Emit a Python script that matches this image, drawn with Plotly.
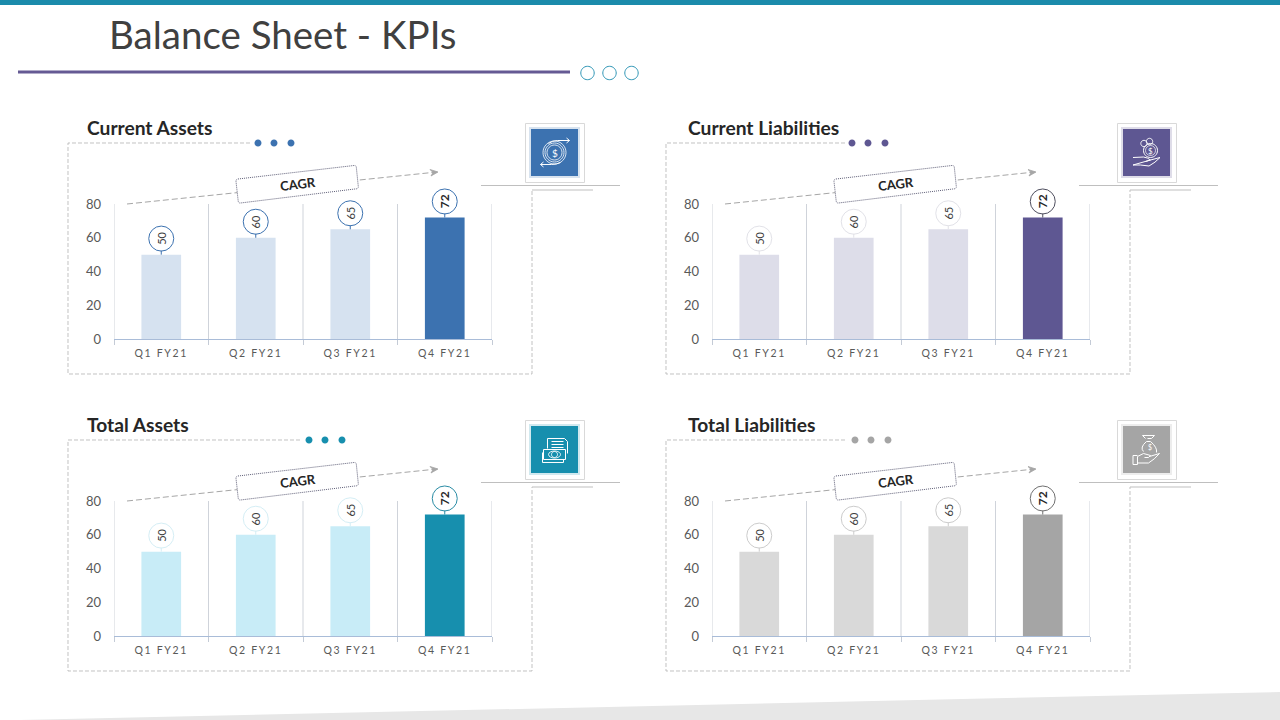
import re
import plotly.graph_objects as go

W, H = 1280, 720

QUARTERS = ["Q1 FY21", "Q2 FY21", "Q3 FY21", "Q4 FY21"]
Y_TICKS = [0, 20, 40, 60, 80]
CURRENT_ASSETS = [50, 60, 65, 72]
CURRENT_LIABILITIES = [50, 60, 65, 72]
TOTAL_ASSETS = [50, 60, 65, 72]
TOTAL_LIABILITIES = [50, 60, 65, 72]

TEXT = "#595959"
DASH = "#b3b3b3"
FONT = "Lato"

panels = [
    dict(title="Current Assets", values=CURRENT_ASSETS, dx=0, dy=0, title_x=87, tile_dx=0, dark="#3c72b0", light="#d6e2f0",
         ring=["#3c72b0"] * 4, dash_end=250, dots=[258, 274, 291], icon="flow"),
    dict(title="Current Liabilities", values=CURRENT_LIABILITIES, dx=598, dy=0, title_x=688, tile_dx=592, dark="#5e5792", light="#dddde9",
         ring=["#e2e2e8"] * 3 + ["#4f4f5f"], dash_end=845, dots=[852, 868, 885], icon="coins"),
    dict(title="Total Assets", values=TOTAL_ASSETS, dx=0, dy=297, title_x=87, tile_dx=0, dark="#178fae", light="#c8ecf7",
         ring=["#d5eef5"] * 3 + ["#2a8ca5"], dash_end=300, dots=[309, 325, 342], icon="bill"),
    dict(title="Total Liabilities", values=TOTAL_LIABILITIES, dx=598, dy=297, title_x=688, tile_dx=592, dark="#a5a5a5", light="#d9d9d9",
         ring=["#cccccc"] * 3 + ["#707070"], dash_end=845, dots=[855, 871, 888], icon="bag"),
]


def px(x):
    return x / W


def py(y):
    return 1 - y / H


def to_paper(path):
    # path written in screen pixels -> paper coordinates
    nums = re.split(r"([MLCQZ])", path)
    out = []
    for part in nums:
        if part in ("M", "L", "C", "Q", "Z"):
            out.append(part)
        elif part.strip():
            v = [float(n) for n in part.split()]
            pairs = [f"{px(v[i]):.5f},{py(v[i + 1]):.5f}" for i in range(0, len(v), 2)]
            out.append(" ".join(pairs))
    return " ".join(out)


def circle(cx, cy, r, ry=None):
    ry = r if ry is None else ry
    k = 0.5523
    return (f"M {cx - r} {cy} C {cx - r} {cy - k * ry} {cx - k * r} {cy - ry} {cx} {cy - ry} "
            f"C {cx + k * r} {cy - ry} {cx + r} {cy - k * ry} {cx + r} {cy} "
            f"C {cx + r} {cy + k * ry} {cx + k * r} {cy + ry} {cx} {cy + ry} "
            f"C {cx - k * r} {cy + ry} {cx - r} {cy + k * ry} {cx - r} {cy} Z")


shapes = []
annotations = []


def add_path(path, color="#ffffff", width=1, dash="solid", fill=None, layer="above"):
    shapes.append(dict(type="path", xref="paper", yref="paper", path=to_paper(path), layer=layer,
                       line=dict(color=color, width=width, dash=dash),
                       fillcolor=fill if fill else "rgba(0,0,0,0)"))


def add_rect(x0, y0, x1, y1, fill=None, color=None, width=1, layer="above", opacity=1):
    shapes.append(dict(type="rect", xref="paper", yref="paper", x0=px(x0), x1=px(x1), y0=py(y1), y1=py(y0),
                       layer=layer, opacity=opacity, fillcolor=fill if fill else "rgba(0,0,0,0)",
                       line=dict(color=color if color else "rgba(0,0,0,0)", width=width if color else 0)))


def add_text(x, y, text, size, color=TEXT, bold=False, anchor="center", angle=0):
    if anchor == "left":
        x -= 2
    annotations.append(dict(xref="paper", yref="paper", x=px(x), y=py(y), text=f"<b>{text}</b>" if bold else text,
                            showarrow=False, xanchor=anchor, yanchor="middle", textangle=angle,
                            font=dict(family=FONT, size=size, color=color)))


def local(points, cx, cy):
    # "M x y L x y" written around the centre of the tile
    parts = re.split(r"([MLCQZ])", points)
    out = []
    for part in parts:
        if part in ("M", "L", "C", "Q", "Z"):
            out.append(part)
        elif part.strip():
            v = [float(n) for n in part.split()]
            out.append(" ".join(f"{v[i] + cx} {v[i + 1] + cy}" for i in range(0, len(v), 2)))
    return " ".join(out)


def draw_icon(kind, cx, cy):
    if kind == "flow":
        for r in (11.5, 9.5, 7.5):
            add_path(circle(cx, cy, r), width=0.8)
        add_text(cx, cy, "$", 10, "#ffffff")
        add_path(local("M -6 -9 Q -2 -12 3 -12 L 15 -12 M 12 -14.5 L 15 -12 L 12 -9.5", cx, cy), width=1)
        add_path(local("M 6 10 Q 2 12 -3 12 L -14 12 M -11 9.5 L -14 12 L -11 14.5", cx, cy), width=1)
    elif kind == "coins":
        add_path(circle(cx + 4, cy - 2, 7), width=1)
        add_path(circle(cx + 4, cy - 2, 5), width=0.7)
        add_text(cx + 4, cy - 2, "$", 8, "#ffffff")
        add_path(circle(cx - 2.5, cy - 9, 3.2), width=0.9)
        add_path(circle(cx + 3, cy - 11, 3.2), width=0.9)
        add_path(local("M -13.5 5 L -3 4.5 Q 1 5 4 7.5 L -1 9 M 4 7.5 L 13.5 5 Q 9 10 2.5 13.5 L -6 12.5 L -13.5 12.5 Z", cx, cy), width=1)
    elif kind == "bill":
        add_path(local("M -7 -1 L -7 -11 L 10 -11 L 13 -8 L 13 4 M -3 -8 L 9 -8 M -3 -5 L 9 -5 M -3 -2 L 9 -2", cx, cy), width=1)
        add_path(local("M -12 3 L -12 13 L 9 13 L 9 10", cx, cy), width=1)
        add_path(local("M -11 0 L 11 0 L 11 10 L -11 10 Z", cx, cy), width=1, fill="#178fae")
        add_path(circle(cx, cy + 5, 6, 3.5), width=0.9)
        add_path(circle(cx, cy + 5, 3, 3), width=0.9)
    else:
        add_path(local("M -1 -11 L -4 -14 L 8 -14 L 5 -11 M 0 -8 L 4 -8 M 1 -11 L 5 -11", cx, cy), width=1)
        add_path(local("M 0 -8 Q -7 -2 -3 2 M 4 -8 Q 11 -2 10 3", cx, cy), width=1)
        add_text(cx + 3, cy - 3, "$", 7, "#ffffff")
        add_path(local("M -9 7 L -9 15 L -13.5 15 L -13.5 6 L -9 6 M -9 7 L -3 4 L 4 6 L 2 8 L -2 8 M 3 7 L 13 4 Q 8 10 2 13.5 L -9 13.5", cx, cy), width=1)


traces = []
layout_axes = {}
UNIT = 135 / 80  # pixels per value unit, 80 sits 135px above 0
TOP_ROOM = 20  # room above the 80 line so the bubbles stay on the axis

for i, p in enumerate(panels):
    n = "" if i == 0 else str(i + 1)
    dx, dy = p["dx"], p["dy"]
    tdx = p["tile_dx"]
    x_name, y_name = f"x{n}", f"y{n}"

    layout_axes[f"xaxis{n}"] = dict(
        domain=[px(114 + dx), px(492 + dx)], anchor=y_name, type="category", categoryorder="array",
        categoryarray=QUARTERS, range=[-0.5, 3.5], tickson="boundaries", ticks="outside", ticklen=5,
        tickcolor="#c4cbd6", tickwidth=1, showgrid=False, automargin=False, ticklabelstandoff=4,
        showline=True, linecolor="#a9bcd8", linewidth=1.2, zeroline=False,
        tickfont=dict(family=FONT, size=10.5, color=TEXT), fixedrange=True)
    layout_axes[f"yaxis{n}"] = dict(
        domain=[py(339 + dy), py(204 - TOP_ROOM + dy)], anchor=x_name, range=[0, 80 + TOP_ROOM / UNIT],
        tickvals=Y_TICKS, automargin=False,
        showgrid=False, zeroline=False, showline=False, ticks="", ticklabelstandoff=12,
        tickfont=dict(family=FONT, size=13, color=TEXT), fixedrange=True)

    for b in range(len(QUARTERS) + 1):
        shapes.append(dict(type="line", xref=x_name, yref=y_name, x0=b - 0.5, x1=b - 0.5, y0=0, y1=Y_TICKS[-1],
                           layer="below", line=dict(color="#cfd3da", width=1)))

    traces.append(go.Bar(x=QUARTERS, y=p["values"], xaxis=x_name, yaxis=y_name, width=0.42, showlegend=False,
                         marker=dict(color=[p["light"]] * 3 + [p["dark"]], line=dict(width=0))))
    # bubble sits a fixed step above each bar
    traces.append(go.Scatter(x=QUARTERS, y=[v + 9.5 for v in p["values"]], xaxis=x_name, yaxis=y_name,
                             mode="markers", cliponaxis=False, showlegend=False,
                             marker=dict(size=25, color="#ffffff", line=dict(color=p["ring"], width=1))))
    for q, v, ring in zip(QUARTERS, p["values"], p["ring"]):
        shapes.append(dict(type="line", xref=x_name, yref=y_name, xsizemode="pixel", ysizemode="pixel",
                           xanchor=q, yanchor=v, x0=0, x1=0, y0=0, y1=4, line=dict(color=ring, width=1)))
        annotations.append(dict(xref=x_name, yref=y_name, x=q, y=v + 9.5, showarrow=False, textangle=-90,
                                text=f"<b>{v}</b>" if q == QUARTERS[-1] else str(v),
                                font=dict(family=FONT, size=12 if q == QUARTERS[-1] else 11,
                                          color="#262626" if q == QUARTERS[-1] else "#404040")))

    # dashed frame around the chart
    add_path(f"M {p['dash_end']} {143 + dy} L {68 + dx} {143 + dy} L {68 + dx} {374 + dy} "
             f"L {532 + dx} {374 + dy} L {532 + dx} {190 + dy}", DASH, 0.8, "4px,2px", layer="below")
    add_path(f"M {532 + dx} {190 + dy} L {593 + dx} {190 + dy}", "#bfbfbf", 1, layer="below")
    add_path(f"M {481 + dx} {185.5 + dy} L {620 + dx} {185.5 + dy}", "#bfbfbf", 1, layer="below")
    for d in p["dots"]:
        add_path(circle(d, 143 + dy, 3.5), p["dark"], 0, fill=p["dark"])

    add_text(p["title_x"], 127 + dy, p["title"], 19.2, "#262626", bold=True, anchor="left")

    # icon tile
    add_rect(525.5 + tdx, 123.5 + dy, 584.5 + tdx, 182.5 + dy, "#ffffff", "#d9d9d9", 1)
    add_rect(529 + tdx, 127 + dy, 580 + tdx, 178 + dy, p["dark"], opacity=0.2)
    add_rect(531 + tdx, 129 + dy, 578 + tdx, 176 + dy, p["dark"])
    draw_icon(p["icon"], 554.5 + tdx, 152.5 + dy)

    # CAGR arrow and tag
    add_path(f"M {127 + dx} {204 + dy} L {437 + dx} {172 + dy}", "#a6a6a6", 1, "6px,3px")
    add_path(f"M {430 + dx} {169.5 + dy} L {438 + dx} {172 + dy} L {431 + dx} {176 + dy} L {433 + dx} {172.5 + dy} Z",
             "#a6a6a6", 0.8, fill="#a6a6a6")
    add_path(f"M {238 + dx} {179 + dy} L {354 + dx} {165.5 + dy} Q {356 + dx} {165.3 + dy} {356.3 + dx} {167 + dy} "
             f"L {358.3 + dx} {186.5 + dy} Q {358.5 + dx} {188.5 + dy} {356.5 + dx} {188.8 + dy} "
             f"L {240.5 + dx} {203 + dy} Q {238.5 + dx} {203.2 + dy} {238.2 + dx} {201 + dy} "
             f"L {236 + dx} {181.5 + dy} Q {235.8 + dx} {179.3 + dy} {238 + dx} {179 + dy} Z",
             "#5f5f78", 1, "1px,1px", fill="#ffffff")
    add_text(297.5 + dx, 184 + dy, "CAGR", 13, "#262626", bold=True, angle=-7)

# slide furniture
add_rect(0, 0, W, 5, "#1b8bab", layer="below")
add_path("M 18 72 L 570 72", "#655a94", 3, layer="below")
for cx in (587.5, 609.5, 631.5):
    add_path(circle(cx, 73, 6.7), "#2d95b5", 1)
add_path(f"M 20 720 L {W} 692 L {W} 720 Z", "#e7e7e7", 0, fill="#e7e7e7", layer="below")
add_text(109, 34, "Balance Sheet - KPIs", 38.5, "#404040", anchor="left")

fig = go.Figure(data=traces)
fig.update_layout(width=W, height=H, margin=dict(l=0, r=0, t=0, b=0), plot_bgcolor="rgba(0,0,0,0)",
                  paper_bgcolor="#ffffff", showlegend=False, shapes=shapes, annotations=annotations,
                  font=dict(family=FONT), **layout_axes)

# page margin off, and the spaced-out quarter labels
post = """
document.body.style.margin = '0';
var st = document.createElement('style');
st.textContent = '.xtick text, .x2tick text, .x3tick text, .x4tick text {letter-spacing: 1.7px;}';
document.head.appendChild(st);
"""
fig.write_html("out.html", post_script=post, config=dict(displayModeBar=False))
